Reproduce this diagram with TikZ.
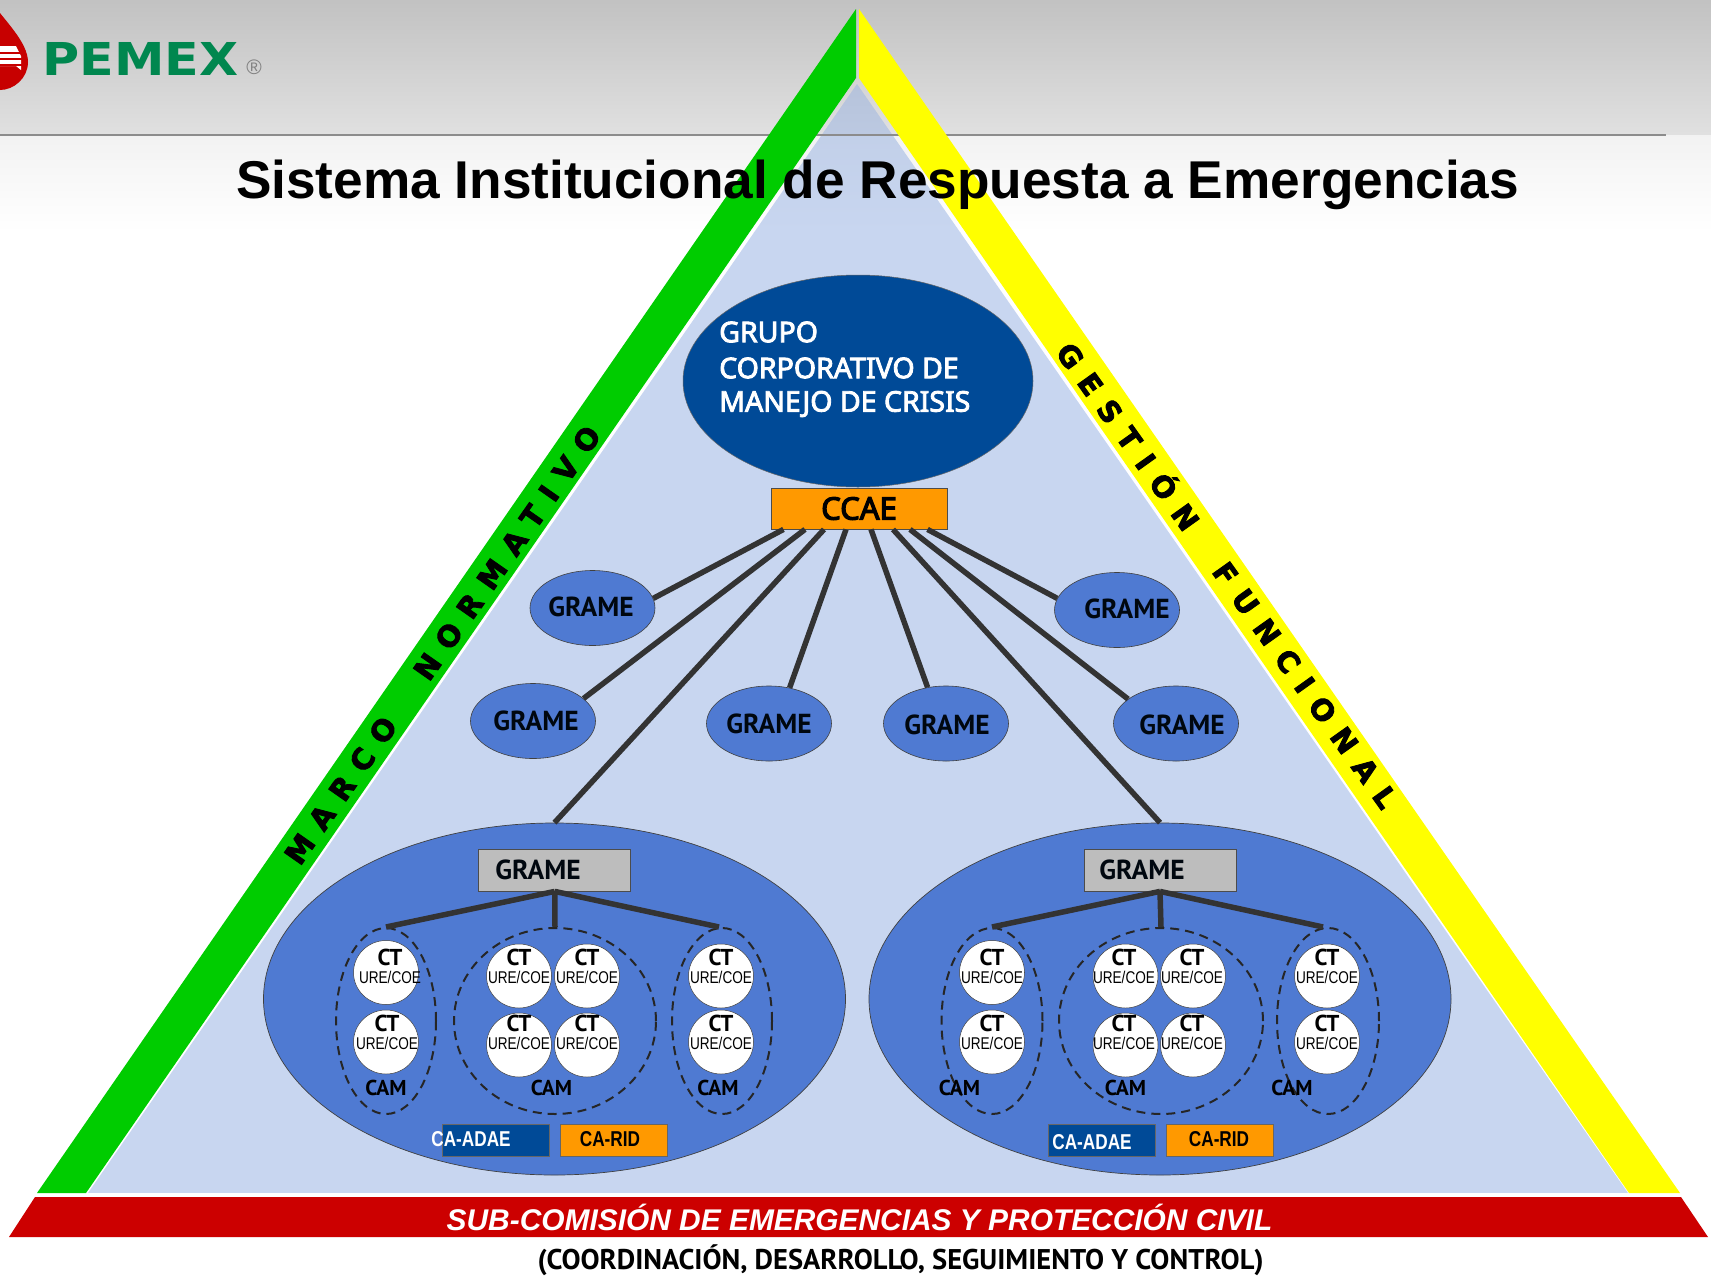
\documentclass[tikz,border=0pt]{standalone}
\usepackage{fontspec}
\usetikzlibrary{shapes.geometric,calc}
\setmainfont{Liberation Sans}
\newfontfamily\lab{PT Sans}
\newfontfamily\grup[FakeBold=3]{Noto Sans}
\newfontfamily\ccaef[FakeBold=4]{Noto Sans}
\newfontfamily\logo{DejaVu Sans}
\newfontfamily\narrow[FakeStretch=0.8]{Liberation Sans}
\newfontfamily\band[LetterSpace=45,BoldFeatures={FakeBold=3}]{DejaVu Sans}
\definecolor{tri}{HTML}{C8D6F0}
\definecolor{ell}{HTML}{4F7AD2}
\definecolor{navy}{HTML}{004A97}
\definecolor{org}{HTML}{FF9900}
\definecolor{grn}{HTML}{00CC00}
\definecolor{yel}{HTML}{FFFF00}
\definecolor{rd}{HTML}{CC0000}
\definecolor{conn}{HTML}{333333}
\definecolor{pmx}{HTML}{00874F}
\tikzset{
 smallell/.style={ellipse,draw=black!75,line width=.6pt,fill=ell,minimum width=125pt,minimum height=75pt,inner sep=0pt},
 bigell/.style={ellipse,draw=black!75,line width=.7pt,fill=ell,minimum width=582pt,minimum height=352pt,inner sep=0pt},
 lbl/.style={font=\lab\fontsize{27.5}{27.5}\selectfont\bfseries,text=black!90!navy,inner sep=0pt},
 link/.style={draw=conn,line width=5.5pt},
 boxg/.style={draw=black!70,line width=.8pt,fill=black!26,minimum width=152pt,minimum height=42pt,inner sep=0pt},
 dashell/.style={ellipse,draw=black!85,line width=2pt,dash pattern=on 9pt off 6pt,minimum height=186pt,inner sep=0pt},
 ctbox/.style={ellipse,draw=black!75,line width=.5pt,fill=white,minimum width=65pt,minimum height=64pt,inner sep=0pt},
 ctt/.style={font=\lab\fontsize{23}{23}\selectfont\bfseries,inner sep=0pt},
 uret/.style={font=\narrow\fontsize{17}{17}\selectfont,inner sep=0pt},
 camt/.style={font=\lab\fontsize{21.5}{21.5}\selectfont\bfseries,inner sep=0pt},
 cab/.style={draw=black!60,line width=.6pt,minimum width=107pt,minimum height=32pt,inner sep=0pt},
 cat/.style={font=\narrow\fontsize{21.5}{21.5}\selectfont\bfseries,inner sep=0pt},
 bandt/.style={font=\band\fontsize{29}{29}\selectfont\bfseries,inner sep=0pt},
 grupt/.style={anchor=west,inner sep=0pt,text=white,font=\grup\fontsize{28.5}{28.5}\selectfont},
}
\newcommand{\ctn}[5]{%
 \node[ctbox] (#1) at (#2,#3) {};
 \node[ctt] (#1-c) at (#4,#5) {CT};
 \node[uret] (#1-u) at (#4,{#5+20}) {URE/COE};
}
\begin{document}
\begin{tikzpicture}[x=1pt,y=-1pt]
\useasboundingbox (0,0) rectangle (1711,1275);
\fill[white] (0,0) rectangle (1711,1275);
% background
\shade[top color=white!76!black,bottom color=white!88!black] (0,0) rectangle (1711,135);
\shade[top color=white!95!black,bottom color=white] (0,135) rectangle (1711,232);
% blue triangle
\begin{scope}
\clip (857,84) -- (88,1193) -- (1628,1193) -- cycle;
\shade[top color=tri!91!black,bottom color=tri!94!black] (0,84) rectangle (1711,135);
\shade[top color=tri!97!black,bottom color=tri] (0,135) rectangle (1711,232);
\fill[tri] (0,232) rectangle (1711,1193);
\end{scope}
\draw[draw=black!45,line width=1.2pt] (0,135) -- (1666,135);
% bands
\fill[grn] (856,9) -- (856,78) -- (86,1193) -- (37,1193) -- cycle;
\fill[yel] (859,9) -- (859,78) -- (1629,1193) -- (1680,1193) -- cycle;
\fill[rd] (35,1197) -- (9,1237) -- (1708,1237) -- (1681,1197) -- cycle;
% logo
\fill[red!78!black] (-10,0) .. controls (4,20) and (28,42) .. (28,62) .. controls (28,78) and (14,90) .. (0,90) -- (-10,90) -- cycle;
\fill[white] (0,46) -- (16,46) -- (21,56) -- (21,70) -- (16,66) -- (0,66) -- cycle;
\draw[red!78!black,line width=1.3pt] (0,53) -- (22,53) (0,59) -- (22,59) (0,65) -- (22,65);
\node[inner sep=0pt,text=pmx] (pemex) at (140.5,58.5) {\resizebox{196pt}{33pt}{\logo\bfseries PEMEX}};
\node[inner sep=0pt,text=black!50,font=\fontsize{21}{21}\selectfont] (reg) at (254,67) {®};
% top
\node[ellipse,fill=navy,draw=black!60,line width=.5pt,minimum width=350pt,minimum height=212pt,inner sep=0pt] (grupo) at (858,381) {};
\node[grupt] (g1t) at (719,332) {GRUPO};
\node[grupt] (g2t) at (719,368) {CORPORATIVO DE};
\node[grupt] (g3t) at (719,404) {MANEJO DE CRISIS};
\node[draw=black!70,line width=.8pt,fill=org,minimum width=176pt,minimum height=41pt,inner sep=0pt,font=\ccaef\fontsize{31}{31}\selectfont] (ccae) at (859,508.5) {CCAE};
% small ellipses
\node[smallell] (e1) at (592.5,608) {};
\node[smallell] (e2) at (533,721) {};
\node[smallell] (e3) at (769,723.5) {};
\node[smallell] (e4) at (946,723.5) {};
\node[smallell] (e5) at (1176,723.5) {};
\node[smallell] (e6) at (1117,610) {};
\node[lbl] (t1) at (591,606.5) {GRAME};
\node[lbl] (t2) at (536,721) {GRAME};
\node[lbl] (t3) at (769,723.5) {GRAME};
\node[lbl] (t4) at (947,724.5) {GRAME};
\node[lbl] (t5) at (1182,724.5) {GRAME};
\node[lbl] (t6) at (1127,609) {GRAME};
% big ellipses
\node[bigell] (b1) at (554.5,999) {};
\node[bigell] (b2) at (1160,999) {};
% links from CCAE
\draw[link] ($(ccae.south)+(-75.5,0)$) -- (e1.9.5);
\draw[link] ($(ccae.south)+(-54,0)$) -- (e2.24);
\draw[link] ($(ccae.south)+(-35,0)$) -- (b1.north);
\draw[link] ($(ccae.south)+(-13,0)$) -- (e3.60);
\draw[link] ($(ccae.south)+(12,0)$) -- (e4.117);
\draw[link] ($(ccae.south)+(34,0)$) -- (b2.north);
\draw[link] ($(ccae.south)+(51,0)$) -- (e5.153);
\draw[link] ($(ccae.south)+(68.5,0)$) -- (e6.169);
% left cluster
\node[boxg] (gb1) at (554.75,870) {};
\node[lbl] (gb1t) at (538,870) {GRAME};
\node[dashell,minimum width=100pt] (d1) at (386,1021) {};
\node[dashell,minimum width=202pt] (d2) at (555,1021) {};
\node[dashell,minimum width=100pt] (d3) at (722,1021) {};
\draw[link] (gb1.south) -- (d1.north);
\draw[link] (gb1.south) -- (d2.north);
\draw[link] (gb1.south) -- ($(d3.north)+(-3,0)$);
\ctn{a1}{386}{972.5}{390}{957}
\ctn{a2}{386}{1042}{387}{1023}
\ctn{a3}{519}{976}{519}{957}
\ctn{a4}{587}{976}{587}{957}
\ctn{a5}{519}{1045}{519}{1023}
\ctn{a6}{587}{1045}{587}{1023}
\ctn{a7}{721}{976}{721}{957}
\ctn{a8}{721}{1042}{721}{1023}
\node[camt] (c1) at (386,1088) {CAM};
\node[camt] (c2) at (551.5,1088) {CAM};
\node[camt] (c3) at (718,1088) {CAM};
\node[cab,fill=navy] (ad1) at (496,1140) {};
\node[cab,fill=org] (ri1) at (613.5,1140) {};
\node[cat,text=white] (ad1t) at (471,1139) {CA-ADAE};
\node[cat] (ri1t) at (610,1139) {CA-RID};
% right cluster
\node[boxg] (gb2) at (1160,870) {};
\node[lbl] (gb2t) at (1142,870) {GRAME};
\node[dashell,minimum width=101pt] (f1) at (992,1021) {};
\node[dashell,minimum width=204pt] (f2) at (1161,1021) {};
\node[dashell,minimum width=102pt] (f3) at (1328,1021) {};
\draw[link] (gb2.south) -- (f1.north);
\draw[link] (gb2.south) -- (f2.north);
\draw[link] (gb2.south) -- ($(f3.north)+(-5,0)$);
\ctn{k1}{992}{972.5}{992}{957}
\ctn{k2}{992}{1042}{992}{1023}
\ctn{k3}{1125.5}{976}{1124}{957}
\ctn{k4}{1193}{976}{1192}{957}
\ctn{k5}{1125.5}{1045}{1124}{1023}
\ctn{k6}{1193}{1045}{1192}{1023}
\ctn{k7}{1327}{976}{1327}{957}
\ctn{k8}{1327}{1042}{1327}{1023}
\node[camt] (h1) at (959.5,1088) {CAM};
\node[camt] (h2) at (1125.5,1088) {CAM};
\node[camt] (h3) at (1292,1088) {CAM};
\node[cab,fill=navy] (ad2) at (1101.5,1140) {};
\node[cab,fill=org] (ri2) at (1219.5,1140) {};
\node[cat,text=white] (ad2t) at (1092,1142) {CA-ADAE};
\node[cat] (ri2t) at (1219,1139) {CA-RID};
% band text
\node[bandt,rotate=55] (m) at (442.5,645) {MARCO\hspace{30pt} NORMATIVO};
\node[bandt,rotate=-54.5] (gf) at (1229,574) {GESTIÓN\hspace{24pt} FUNCIONAL};
\node[inner sep=0pt,text=white,font=\fontsize{29.9}{30}\selectfont\bfseries\itshape] (sub) at (859.5,1217) {SUB-COMISIÓN DE EMERGENCIAS Y PROTECCIÓN CIVIL};
\node[inner sep=0pt,font=\lab\fontsize{28.5}{28.5}\selectfont\bfseries] (coord) at (900.7,1260) {(COORDINACIÓN, DESARROLLO, SEGUIMIENTO Y CONTROL)};
\node[inner sep=0pt,font=\fontsize{53.2}{54}\selectfont\bfseries] (title) at (877.6,185) {Sistema Institucional de Respuesta a Emergencias};
\end{tikzpicture}
\end{document}
